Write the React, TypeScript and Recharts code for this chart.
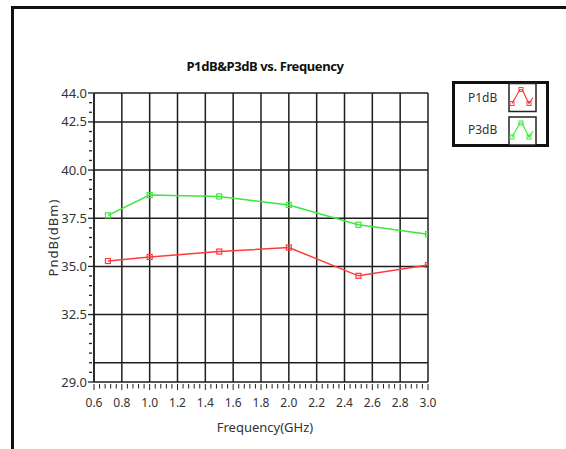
import React from 'react';
import { LineChart, Line, XAxis, YAxis, ReferenceLine } from 'recharts';

const frequencies = [0.7, 1.0, 1.5, 2.0, 2.5, 3.0];
const p1dB = [35.28, 35.49, 35.77, 35.98, 34.51, 35.07];
const p3dB = [37.65, 38.7, 38.63, 38.19, 37.16, 36.67];

const xMajorTicks = [0.6, 0.8, 1.0, 1.2, 1.4, 1.6, 1.8, 2.0, 2.2, 2.4, 2.6, 2.8, 3.0];
const yMajorTicks = [29, 32.5, 35, 37.5, 40, 42.5, 44];
const yGridValues = [30, 32.5, 35, 37.5, 40, 42.5, 44];
const xGridValues = [0.6, 0.8, 1.0, 1.2, 1.4, 1.6, 1.8, 2.0, 2.2, 2.4, 2.6, 2.8, 3.0];

const seriesNames = ['P1dB', 'P3dB'];
const seriesColors = ['#ff3b3b', '#3ce83c'];

const xAllTicks: number[] = [];
for (let i = 0; i <= 60; i++) xAllTicks.push(Math.round((0.6 + i * 0.04) * 100) / 100);
const yAllTicks: number[] = [];
for (let i = 0; i <= 30; i++) yAllTicks.push(29 + i * 0.5);

const data = frequencies.map((f, i) => ({ f, p1: p1dB[i], p3: p3dB[i] }));

const FONT = '"Noto Sans", "Liberation Sans", sans-serif';
const GRID = '#1e1e1e';

const isMajorX = (v: number) => xMajorTicks.some((t) => Math.abs(t - v) < 1e-6);
const isMajorY = (v: number) => yMajorTicks.some((t) => Math.abs(t - v) < 1e-6);

const XTick = (props: any) => {
  const { x, y, payload } = props;
  const v = payload.value;
  const major = isMajorX(v);
  return (
    <g>
      <line x1={x} x2={x} y1={y + 2} y2={y + (major ? 8 : 6.5)} stroke="#222" strokeWidth={1} />
      {major && (
        <text x={x} y={y + 25} textAnchor="middle" fontSize={12} fontFamily={FONT} fill="#333">
          {v.toFixed(1)}
        </text>
      )}
    </g>
  );
};

const YTick = (props: any) => {
  const { x, y, payload } = props;
  const v = payload.value;
  const major = isMajorY(v);
  return (
    <g>
      <line x1={major ? x - 6 : x - 5} x2={major ? x : x - 2} y1={y} y2={y} stroke="#222" strokeWidth={1.3} />
      {major && (
        <text x={x - 7} y={y + 4.5} textAnchor="end" fontSize={13} fontFamily={FONT} fill="#333">
          {v.toFixed(1)}
        </text>
      )}
    </g>
  );
};

const SquareDot = (color: string) => (props: any) => {
  const { cx, cy } = props;
  if (cx == null || cy == null) return null;
  return <rect x={cx - 2.5} y={cy - 2.5} width={5} height={5} fill="none" stroke={color} strokeWidth={1.2} />;
};

const LegendIcon = ({ x, y, color }: { x: number; y: number; color: string }) => (
  <g>
    <rect x={x} y={y} width={27} height={28} fill="#fff" stroke="#222" strokeWidth={1.5} />
    <polyline
      points={`${x + 3},${y + 20} ${x + 11},${y + 6} ${x + 13},${y + 6} ${x + 20},${y + 20} ${x + 24},${y + 14}`}
      fill="none"
      stroke={color}
      strokeWidth={1.2}
    />
    {[[3, 20], [12, 6], [20, 20]].map(([dx, dy], i) => (
      <rect key={i} x={x + dx - 2} y={y + dy - 2} width={4} height={4} fill="none" stroke={color} strokeWidth={1} />
    ))}
  </g>
);

export default function App() {
  return (
    <div style={{ position: 'fixed', left: 0, top: 0, width: 566, height: 449, background: '#fff', overflow: 'hidden' }}>
      <div
        style={{
          position: 'absolute',
          left: 11,
          top: 6,
          width: 600,
          height: 500,
          border: '3px solid #111',
        }}
      />
      <div
        style={{
          position: 'absolute',
          left: 115,
          top: 57,
          width: 300,
          textAlign: 'center',
          fontFamily: FONT,
          fontWeight: 'bold',
          fontSize: 13,
          color: '#111',
          letterSpacing: -0.4,
        }}
      >
        P1dB&amp;P3dB vs. Frequency
      </div>
      <div style={{ position: 'absolute', left: 0, top: 0 }}>
        <LineChart width={566} height={449} data={data} margin={{ top: 93, right: 138, left: 0, bottom: 7 }}>
          <XAxis
            dataKey="f"
            type="number"
            domain={[0.6, 3.0]}
            ticks={xAllTicks}
            interval={0}
            tick={<XTick />}
            tickLine={false}
            tickSize={0}
            tickMargin={0}
            axisLine={{ stroke: GRID, strokeWidth: 1.5 }}
            height={60}
            allowDataOverflow
            label={{
              value: 'Frequency(GHz)',
              position: 'insideBottom',
              offset: 10,
              dx: 4,
              style: { fontFamily: FONT, fontSize: 13, fill: '#333' },
            }}
          />
          <YAxis
            type="number"
            domain={[29, 44]}
            ticks={yAllTicks}
            interval={0}
            tick={<YTick />}
            tickLine={false}
            tickSize={0}
            tickMargin={0}
            axisLine={{ stroke: GRID, strokeWidth: 1.5 }}
            width={94}
            allowDataOverflow
            label={{
              value: 'PndB(dBm)',
              angle: -90,
              position: 'insideLeft',
              offset: 53,
              style: { textAnchor: 'middle', fontFamily: FONT, fontSize: 13, fill: '#333', letterSpacing: 1 },
            }}
          />
          {yGridValues.map((v) => (
            <ReferenceLine key={'h' + v} y={v} stroke={GRID} strokeWidth={1.5} />
          ))}
          {xGridValues.map((v) => (
            <ReferenceLine key={'v' + v} x={v} stroke={GRID} strokeWidth={1.5} />
          ))}
          <Line
            dataKey="p1"
            name={seriesNames[0]}
            stroke={seriesColors[0]}
            strokeWidth={1.5}
            dot={SquareDot(seriesColors[0])}
            isAnimationActive={false}
            type="linear"
          />
          <Line
            dataKey="p3"
            name={seriesNames[1]}
            stroke={seriesColors[1]}
            strokeWidth={1.5}
            dot={SquareDot(seriesColors[1])}
            isAnimationActive={false}
            type="linear"
          />
        </LineChart>
      </div>
      <svg style={{ position: 'absolute', left: 452, top: 81 }} width={98} height={68}>
        <rect x={1.5} y={1.5} width={94} height={63} fill="#fff" stroke="#111" strokeWidth={3} />
        <text x={16} y={21} fontSize={12} fontFamily={FONT} fill="#333">{seriesNames[0]}</text>
        <text x={16} y={53} fontSize={12} fontFamily={FONT} fill="#333">{seriesNames[1]}</text>
        <LegendIcon x={57} y={2.5} color={seriesColors[0]} />
        <LegendIcon x={57} y={36} color={seriesColors[1]} />
      </svg>
    </div>
  );
}
